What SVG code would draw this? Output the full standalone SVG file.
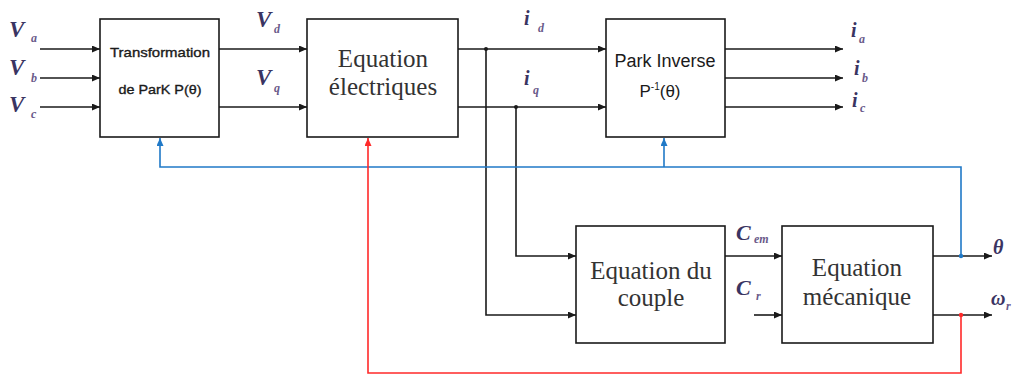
<svg xmlns="http://www.w3.org/2000/svg" width="1013" height="376" viewBox="0 0 1013 376">
<style>
.box{fill:#fff;stroke:#1a1a1a;stroke-width:1.6}
.ln{fill:none;stroke:#1a1a1a;stroke-width:1.6}
.bl{fill:none;stroke:#2079c7;stroke-width:1.6}
.rd{fill:none;stroke:#ff2a2a;stroke-width:1.6}
text.serif{font-family:'Liberation Serif','DejaVu Serif',serif;font-size:25px;fill:#333;text-anchor:middle}
text.sans{font-family:'Liberation Sans','DejaVu Sans',sans-serif;fill:#1a1a1a;text-anchor:middle}
text.small{stroke:#1a1a1a;stroke-width:0.35}
text.var{font-family:'Liberation Serif','DejaVu Serif',serif;font-style:italic;font-weight:bold;fill:#3a3462}
text.sub{font-family:'Liberation Serif','DejaVu Serif',serif;font-style:italic;font-weight:bold;fill:#6a5a8a;font-size:12px}
</style>
<defs>
<marker id="ak" markerUnits="userSpaceOnUse" markerWidth="9" markerHeight="7" refX="8" refY="3.5" orient="auto"><path d="M0,0 L8,3.5 L0,7 z" fill="#1a1a1a"/></marker>
<marker id="ab" markerUnits="userSpaceOnUse" markerWidth="9" markerHeight="7" refX="8" refY="3.5" orient="auto"><path d="M0,0 L8,3.5 L0,7 z" fill="#2079c7"/></marker>
<marker id="ar" markerUnits="userSpaceOnUse" markerWidth="9" markerHeight="7" refX="8" refY="3.5" orient="auto"><path d="M0,0 L8,3.5 L0,7 z" fill="#ff2a2a"/></marker>
</defs>

<g id="connectors">
<line class="ln" x1="40" y1="49" x2="100" y2="49" marker-end="url(#ak)"/>
<line class="ln" x1="40" y1="78" x2="100" y2="78" marker-end="url(#ak)"/>
<line class="ln" x1="40" y1="107" x2="100" y2="107" marker-end="url(#ak)"/>
<line class="ln" x1="219" y1="49" x2="307" y2="49" marker-end="url(#ak)"/>
<line class="ln" x1="219" y1="107" x2="307" y2="107" marker-end="url(#ak)"/>
<line class="ln" x1="458" y1="49" x2="606" y2="49" marker-end="url(#ak)"/>
<line class="ln" x1="458" y1="107" x2="606" y2="107" marker-end="url(#ak)"/>
<line class="ln" x1="725" y1="49" x2="843" y2="49" marker-end="url(#ak)"/>
<line class="ln" x1="725" y1="78" x2="843" y2="78" marker-end="url(#ak)"/>
<line class="ln" x1="725" y1="107" x2="843" y2="107" marker-end="url(#ak)"/>
<polyline class="ln" points="486,49 486,315 576,315" marker-end="url(#ak)"/>
<polyline class="ln" points="516,107 516,256 576,256" marker-end="url(#ak)"/>
<line class="ln" x1="725" y1="256" x2="782" y2="256" marker-end="url(#ak)"/>
<line class="ln" x1="754" y1="315" x2="782" y2="315" marker-end="url(#ak)"/>
<line class="ln" x1="933" y1="256" x2="992" y2="256" marker-end="url(#ak)"/>
<line class="ln" x1="933" y1="315" x2="992" y2="315" marker-end="url(#ak)"/>
<polyline class="bl" points="961,256 961,167 160,167 160,138" marker-end="url(#ab)"/>
<line class="bl" x1="664" y1="167" x2="664" y2="138" marker-end="url(#ab)"/>
<polyline class="rd" points="961,315 961,373 368,373 368,138" marker-end="url(#ar)"/>
<circle cx="486" cy="49" r="2" fill="#1a1a1a"/>
<circle cx="516" cy="107" r="2" fill="#1a1a1a"/>
<circle cx="961" cy="256" r="2.2" fill="#2079c7"/>
<circle cx="961" cy="315" r="2.2" fill="#ff2a2a"/>
</g>

<g id="park">
<rect class="box" x="100" y="19" width="119" height="118"/>
<text class="sans small" x="160" y="57" font-size="13" textLength="100" lengthAdjust="spacingAndGlyphs">Transformation</text>
<text class="sans small" x="160" y="94" font-size="13" textLength="83" lengthAdjust="spacingAndGlyphs">de ParK P(θ)</text>
</g>

<g id="elec">
<rect class="box" x="307" y="19" width="151" height="118"/>
<text class="serif" x="383" y="67">Equation</text>
<text class="serif" x="383" y="95">électriques</text>
</g>

<g id="parkinv">
<rect class="box" x="606" y="19" width="119" height="118"/>
<text class="sans" x="665" y="67" font-size="18">Park Inverse</text>
<text class="sans" x="660" y="97" font-size="17">P<tspan font-size="10" dy="-7">-1</tspan><tspan dy="7">(θ)</tspan></text>
</g>

<g id="couple">
<rect class="box" x="576" y="226" width="149" height="117"/>
<text class="serif" x="651" y="279">Equation du</text>
<text class="serif" x="651" y="306">couple</text>
</g>

<g id="meca">
<rect class="box" x="782" y="226" width="151" height="117"/>
<text class="serif" x="857" y="276">Equation</text>
<text class="serif" x="857" y="305">mécanique</text>
</g>

<g id="labels">
<text class="var" x="9" y="37" font-size="23">V</text><text class="sub" x="31" y="42">a</text>
<text class="var" x="9" y="75" font-size="23">V</text><text class="sub" x="31" y="82">b</text>
<text class="var" x="9" y="112" font-size="23">V</text><text class="sub" x="31" y="118">c</text>
<text class="var" x="256" y="27" font-size="23">V</text><text class="sub" x="274" y="33">d</text>
<text class="var" x="256" y="85" font-size="23">V</text><text class="sub" x="274" y="92">q</text>
<text class="var" x="524" y="25" font-size="20">i</text><text class="sub" x="538" y="32">d</text>
<text class="var" x="524" y="85" font-size="20">i</text><text class="sub" x="533" y="94">q</text>
<text class="var" x="851" y="37" font-size="20">i</text><text class="sub" x="859" y="43">a</text>
<text class="var" x="854" y="75" font-size="20">i</text><text class="sub" x="862" y="82">b</text>
<text class="var" x="852" y="107" font-size="20">i</text><text class="sub" x="860" y="112">c</text>
<text class="var" x="736" y="240" font-size="22">C</text><text class="sub" x="754" y="243" font-size="10">em</text>
<text class="var" x="736" y="295" font-size="22">C</text><text class="sub" x="756" y="300">r</text>
<text class="var" x="993" y="254" font-size="20">θ</text>
<text class="var" x="991" y="305" font-size="20">ω</text><text class="sub" x="1006" y="310">r</text>
</g>
</svg>
